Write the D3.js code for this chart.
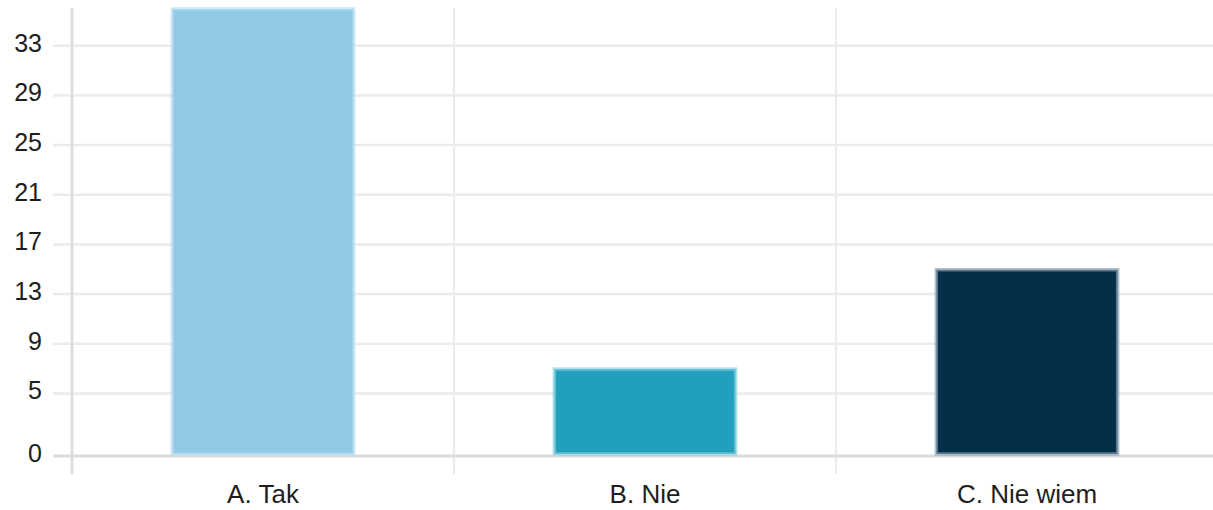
<!DOCTYPE html>
<html>
<head>
<meta charset="utf-8">
<script src="https://cdn.jsdelivr.net/npm/d3@7"></script>
<style>
  html, body { margin: 0; padding: 0; background: #fff; }
  svg { display: block; }
  text { font-family: "Liberation Sans", Arial, sans-serif; fill: #1e1e1e; }
</style>
</head>
<body>
<svg id="chart" width="1213" height="510"></svg>
<script>
const categories = ["A. Tak", "B. Nie", "C. Nie wiem"];
const values = [36, 7, 15];
const tickValues = [0, 5, 9, 13, 17, 21, 25, 29, 33];
const colors = ["#91c8e5", "#229fbd", "#033048"];
const strokeColors = ["#b4dcf1", "#86cfe0", "#8aa0b0"];

(function () {
const svg = d3.select("#chart");
const W = 1213;
const plotLeft = 72, plotTop = 8, plotBottom = 455;

const x = d3.scaleBand().domain(categories).range([plotLeft, plotLeft + 3 * 382]).padding(0);
const y = d3.scaleLinear().domain([0, 36]).range([plotBottom, plotTop]);

// horizontal gridlines
const grid = svg.append("g").attr("transform", "translate(53,0)")
  .call(d3.axisLeft(y).tickValues(tickValues.filter(d => d !== 0)).tickSize(-(W - 53)).tickFormat(""));
grid.select(".domain").remove();
grid.selectAll("line").attr("stroke", "#ebebeb").attr("stroke-width", 2.5);

// vertical gridlines at band boundaries
svg.append("g").selectAll("line").data(categories.slice(1)).join("line")
  .attr("x1", d => x(d)).attr("x2", d => x(d))
  .attr("y1", plotTop).attr("y2", 474)
  .attr("stroke", "#ebebeb").attr("stroke-width", 2);

// y axis line
svg.append("line").attr("x1", plotLeft).attr("x2", plotLeft).attr("y1", plotTop).attr("y2", 474)
  .attr("stroke", "#dddddd").attr("stroke-width", 3);

// zero line
svg.append("line").attr("x1", 53).attr("x2", W).attr("y1", y(0) + 1).attr("y2", y(0) + 1)
  .attr("stroke", "#dcdcdc").attr("stroke-width", 3);

// bars
const bw = x.bandwidth() * 0.48;
svg.append("g").selectAll("rect").data(values).join("rect")
  .attr("x", (d, i) => x(categories[i]) + (x.bandwidth() - bw) / 2 + 1)
  .attr("y", d => y(d) + 1)
  .attr("width", bw - 2)
  .attr("height", d => y(0) - y(d) - 2)
  .attr("fill", (d, i) => colors[i])
  .attr("stroke", (d, i) => strokeColors[i])
  .attr("stroke-opacity", 0.65)
  .attr("stroke-width", 3.5);

// y tick labels
const yAx = svg.append("g").attr("transform", "translate(42,-2)")
  .call(d3.axisLeft(y).tickValues(tickValues).tickSize(0).tickPadding(0));
yAx.select(".domain").remove();
yAx.selectAll("text").attr("font-size", 25).attr("font-family", "Liberation Sans, Arial, sans-serif").attr("fill", "#1e1e1e");

// x labels
const xAx = svg.append("g").attr("transform", "translate(0,484)")
  .call(d3.axisBottom(x).tickSize(0).tickPadding(0));
xAx.select(".domain").remove();
xAx.selectAll("text").attr("font-size", 26).attr("dy", "0.72em").attr("font-family", "Liberation Sans, Arial, sans-serif").attr("fill", "#1e1e1e");
})();
</script>
</body>
</html>
